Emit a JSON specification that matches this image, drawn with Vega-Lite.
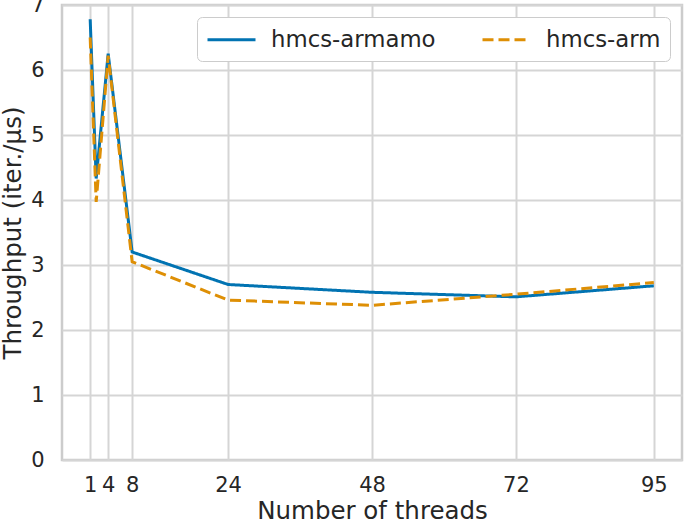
{
  "$schema": "https://vega.github.io/schema/vega-lite/v6.json",
  "autosize": "none",
  "width": 620,
  "height": 455,
  "padding": {"left": 62, "top": 5, "right": 3, "bottom": 64},
  "background": "white",
  "config": {
    "font": "DejaVu Sans",
    "view": {"stroke": "#cccccc", "strokeWidth": 2.5},
    "axis": {
      "domain": false,
      "ticks": false,
      "grid": true,
      "gridColor": "#d5d5d5",
      "gridWidth": 2,
      "labelFont": "DejaVu Sans",
      "labelFontSize": 21,
      "labelColor": "#262626",
      "titleFont": "DejaVu Sans",
      "titleFontSize": 24.5,
      "titleFontWeight": "normal",
      "titleColor": "#262626"
    },
    "legend": {
      "labelFont": "DejaVu Sans",
      "labelFontSize": 22.8,
      "labelColor": "#262626",
      "labelLimit": 400
    }
  },
  "data": {
    "values": [
      {"threads": 1, "throughput": 6.78, "series": "hmcs-armamo"},
      {"threads": 2, "throughput": 4.33, "series": "hmcs-armamo"},
      {"threads": 4, "throughput": 6.25, "series": "hmcs-armamo"},
      {"threads": 8, "throughput": 3.2, "series": "hmcs-armamo"},
      {"threads": 24, "throughput": 2.7, "series": "hmcs-armamo"},
      {"threads": 48, "throughput": 2.58, "series": "hmcs-armamo"},
      {"threads": 72, "throughput": 2.51, "series": "hmcs-armamo"},
      {"threads": 95, "throughput": 2.68, "series": "hmcs-armamo"},
      {"threads": 1, "throughput": 6.5, "series": "hmcs-arm"},
      {"threads": 2, "throughput": 3.97, "series": "hmcs-arm"},
      {"threads": 4, "throughput": 6.22, "series": "hmcs-arm"},
      {"threads": 8, "throughput": 3.05, "series": "hmcs-arm"},
      {"threads": 24, "throughput": 2.46, "series": "hmcs-arm"},
      {"threads": 48, "throughput": 2.38, "series": "hmcs-arm"},
      {"threads": 72, "throughput": 2.55, "series": "hmcs-arm"},
      {"threads": 95, "throughput": 2.73, "series": "hmcs-arm"}
    ]
  },
  "mark": {"type": "line", "strokeWidth": 3, "strokeCap": "butt"},
  "encoding": {
    "x": {
      "field": "threads",
      "type": "quantitative",
      "scale": {"domain": [-3.7, 99.7], "nice": false, "zero": false},
      "axis": {"values": [1, 4, 8, 24, 48, 72, 95], "title": "Number of threads", "labelPadding": 14, "titlePadding": 4}
    },
    "y": {
      "field": "throughput",
      "type": "quantitative",
      "scale": {"domain": [0, 7], "nice": false},
      "axis": {"values": [0, 1, 2, 3, 4, 5, 6, 7], "title": "Throughput (iter./µs)", "labelPadding": 18, "titlePadding": 5}
    },
    "color": {
      "field": "series",
      "type": "nominal",
      "scale": {"domain": ["hmcs-armamo", "hmcs-arm"], "range": ["#0173B2", "#DE8F05"]},
      "legend": {
        "title": null,
        "orient": "none",
        "legendX": 135,
        "legendY": 12,
        "direction": "horizontal",
        "symbolType": "M-2,0H2",
        "symbolSize": 576,
        "symbolOffset": 12,
        "symbolStrokeWidth": 3,
        "labelOffset": 26,
        "columnPadding": 40,
        "padding": 9,
        "fillColor": "white",
        "strokeColor": "#cccccc",
        "cornerRadius": 5
      }
    },
    "strokeDash": {
      "field": "series",
      "type": "nominal",
      "scale": {"domain": ["hmcs-armamo", "hmcs-arm"], "range": [[1, 0], [11, 5]]},
      "legend": {
        "title": null,
        "orient": "none",
        "legendX": 135,
        "legendY": 12,
        "direction": "horizontal",
        "symbolType": "M-2,0H2",
        "symbolSize": 576,
        "symbolOffset": 12,
        "symbolStrokeWidth": 3,
        "labelOffset": 26,
        "columnPadding": 40,
        "padding": 9,
        "fillColor": "white",
        "strokeColor": "#cccccc",
        "cornerRadius": 5
      }
    }
  }
}
